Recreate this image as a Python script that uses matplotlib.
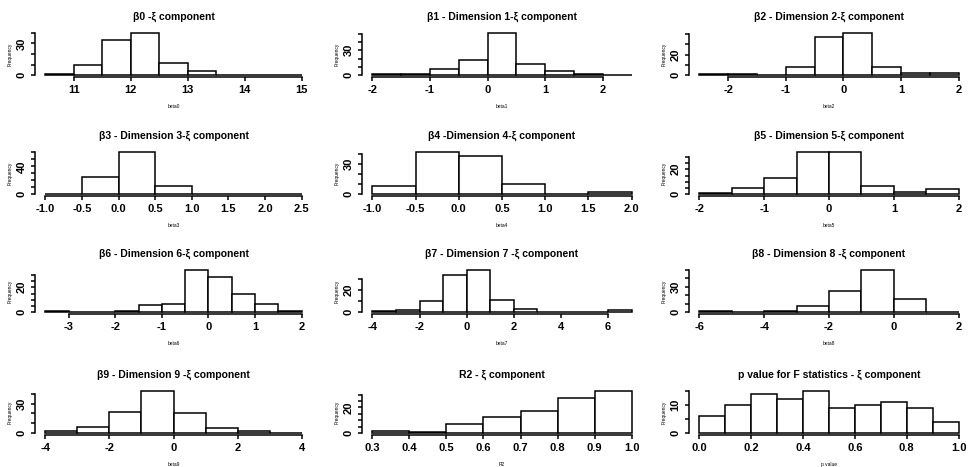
import numpy as np
import matplotlib
matplotlib.use("Agg")
import matplotlib.pyplot as plt

plt.rcParams['font.family'] = ['Liberation Sans', 'DejaVu Sans']

# panel texts
titles = ['\u03b20 -\u03be component',
          '\u03b21 - Dimension 1-\u03be component',
          '\u03b22 - Dimension 2-\u03be component',
          '\u03b23 - Dimension 3-\u03be component',
          '\u03b24 -Dimension 4-\u03be component',
          '\u03b25 - Dimension 5-\u03be component',
          '\u03b26 - Dimension 6-\u03be component',
          '\u03b27 - Dimension 7 -\u03be component',
          '\u03b28 - Dimension 8 -\u03be component',
          '\u03b29 - Dimension 9 -\u03be component',
          'R2 - \u03be component',
          'p value for F statistics - \u03be component']
xlabels = ['beta0', 'beta1', 'beta2', 'beta3', 'beta4', 'beta5',
           'beta6', 'beta7', 'beta8', 'beta9', 'R2', 'p value']

# histogram breaks (first, last) and counts per bin
bin_lo = [10.5, -2.0, -2.5, -1.0, -1.0, -2.0, -3.5, -4.0, -6.0, -4.0, 0.3, 0.0]
bin_hi = [15.0, 2.5, 2.0, 2.5, 2.0, 2.0, 2.0, 7.0, 2.0, 4.0, 1.0, 1.0]
counts = [
    [1, 10, 33, 40, 12, 4, 0, 0, 0],
    [1, 2, 7, 18, 51, 14, 5, 2, 0],
    [1, 1, 0, 8, 37, 41, 8, 2, 2],
    [1, 25, 61, 12, 1, 0, 0],
    [8, 42, 38, 10, 0, 2],
    [1, 5, 13, 34, 34, 7, 2, 4],
    [1, 0, 0, 1, 6, 7, 34, 28, 15, 7, 1],
    [1, 2, 10, 33, 38, 11, 3, 0, 0, 0, 2],
    [1, 0, 1, 7, 25, 50, 16, 0],
    [2, 6, 22, 43, 20, 5, 2, 0],
    [2, 1, 7, 13, 17, 27, 33],
    [6, 10, 14, 12, 15, 9, 10, 11, 9, 4],
]

# axis ticks
xticks = [[11, 12, 13, 14, 15],
          [-2, -1, 0, 1, 2],
          [-2, -1, 0, 1, 2],
          [-1.0, -0.5, 0.0, 0.5, 1.0, 1.5, 2.0, 2.5],
          [-1.0, -0.5, 0.0, 0.5, 1.0, 1.5, 2.0],
          [-2, -1, 0, 1, 2],
          [-3, -2, -1, 0, 1, 2],
          [-4, -2, 0, 2, 4, 6],
          [-6, -4, -2, 0, 2],
          [-4, -2, 0, 2, 4],
          [0.3, 0.4, 0.5, 0.6, 0.7, 0.8, 0.9, 1.0],
          [0.0, 0.2, 0.4, 0.6, 0.8, 1.0]]
xfmt = ['%d', '%d', '%d', '%.1f', '%.1f', '%d', '%d', '%d', '%d', '%d', '%.1f', '%.1f']
yticks = [[0, 10, 20, 30, 40],
          [0, 10, 20, 30, 40, 50],
          [0, 10, 20, 30, 40],
          [0, 10, 20, 30, 40, 50, 60],
          [0, 10, 20, 30, 40],
          [0, 5, 10, 15, 20, 25, 30],
          [0, 5, 10, 15, 20, 25, 30],
          [0, 10, 20, 30],
          [0, 10, 20, 30, 40, 50],
          [0, 10, 20, 30, 40],
          [0, 5, 10, 15, 20, 25, 30],
          [0, 5, 10, 15]]
ylabeled = [[0, 30], [0, 30], [0, 20], [0, 40], [0, 30], [0, 20],
            [0, 20], [0, 20], [0, 30], [0, 30], [0, 20], [0, 10]]

W, H = 974, 467
fig = plt.figure(figsize=(W / 100, H / 100), dpi=100)

col_x = [(35, 312), (362, 642), (689, 969)]
row_top = [31, 150, 268, 389]
row_h = 46

for i in range(12):
    r, c = divmod(i, 3)
    x0, x1 = col_x[c]
    ax = fig.add_axes([x0 / W, 1 - (row_top[r] + row_h) / H, (x1 - x0) / W, row_h / H])

    n = counts[i]
    edges = np.linspace(bin_lo[i], bin_hi[i], len(n) + 1)
    ax.bar(edges[:-1], n, width=np.diff(edges), align='edge',
           facecolor='white', edgecolor='black', linewidth=1.1)

    xr = bin_hi[i] - bin_lo[i]
    ax.set_xlim(bin_lo[i] - 0.04 * xr, bin_hi[i] + 0.04 * xr)
    ym = max(n)
    ax.set_ylim(-0.04 * ym, 1.04 * ym)

    for s in ['top', 'right']:
        ax.spines[s].set_visible(False)
    ax.spines['left'].set_bounds(yticks[i][0], yticks[i][-1])
    ax.spines['bottom'].set_bounds(xticks[i][0], xticks[i][-1])
    ax.spines['left'].set_linewidth(1.1)
    ax.spines['bottom'].set_linewidth(1.1)

    ax.set_xticks(xticks[i])
    ax.set_xticklabels([xfmt[i] % v for v in xticks[i]])
    ax.set_yticks(yticks[i])
    ax.set_yticklabels([str(v) if v in ylabeled[i] else '' for v in yticks[i]],
                       rotation=90, va='center')
    ax.tick_params(length=3, width=1.1, pad=3, labelsize=8)
    for lab in ax.get_xticklabels() + ax.get_yticklabels():
        lab.set_fontweight('bold')

    ax.set_title(titles[i], fontsize=7.5, fontweight='bold', pad=8)
    ax.set_xlabel(xlabels[i], fontsize=3.5, labelpad=6)
    ax.set_ylabel('Frequency', fontsize=3.5, labelpad=3)

fig.savefig('out.png', dpi=100)
